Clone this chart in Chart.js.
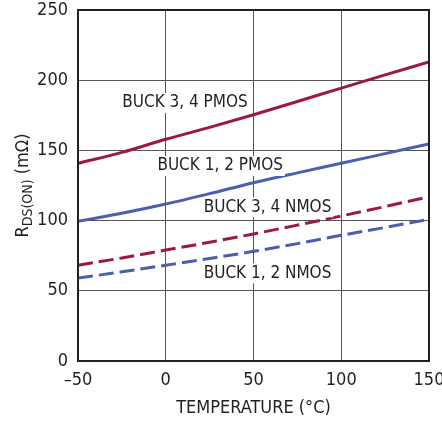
<!DOCTYPE html>
<html>
<head>
<meta charset="utf-8">
<script src="https://cdn.jsdelivr.net/npm/chart.js@4"></script>
<style>
  html, body { margin: 0; padding: 0; background: #fff; }
  #wrap { width: 442px; height: 423px; }
</style>
</head>
<body>
<div id="wrap"><canvas id="grafico" width="442" height="423"></canvas></div>
<script>
// temperaturas (°C) y resistencias (mΩ)
const temperaturas = [-50, -25, 0, 25, 50, 75, 100, 125, 150];
const buck34Pmos = [140.8, 148.6, 157.9, 166.4, 175.4, 184.8, 194.4, 203.8, 213];
const buck12Pmos = [99.5, 105.2, 111.8, 119.2, 127, 134, 140.8, 147.7, 154.6];
const buck34Nmos = [68.2, 73.4, 79, 84.6, 90.5, 96.8, 103.3, 110, 117];
const buck12Nmos = [59.1, 63.5, 68.2, 73, 78.1, 83.6, 89.5, 95.1, 100.9];

const xTicks = [-50, 0, 50, 100, 150];
const yTicks = [0, 50, 100, 150, 200, 250];

// etiquetas de las curvas: texto y posicion en unidades del grafico
const etiquetas = ['BUCK 3, 4 PMOS', 'BUCK 1, 2 PMOS', 'BUCK 3, 4 NMOS', 'BUCK 1, 2 NMOS'];
const etiquetasX = [11, 31, 58, 58];
const etiquetasY = [183.8, 138.9, 109.5, 62.5];

const ROJO = '#9d1a3d';
const AZUL = '#4a60ae';
const FUENTE = "'Liberation Sans Narrow', 'DejaVu Sans Condensed', 'Liberation Sans', sans-serif";

function serie(valores, color, discontinua) {
    return {
        data: temperaturas.map((t, i) => ({ x: t, y: valores[i] })),
        borderColor: color,
        borderWidth: 3,
        borderDash: discontinua ? [15, 6] : [],
        pointRadius: 0,
        cubicInterpolationMode: 'monotone',
        fill: false
    };
}

const etiquetasPlugin = {
    id: 'etiquetas',
    afterDatasetsDraw(chart) {
        const ctx = chart.ctx;
        const sx = chart.scales.x, sy = chart.scales.y;
        ctx.save();
        ctx.font = '17px ' + FUENTE;
        ctx.textAlign = 'center';
        ctx.textBaseline = 'middle';
        etiquetas.forEach(function(txt, i) {
            const px = sx.getPixelForValue(etiquetasX[i]);
            const py = sy.getPixelForValue(etiquetasY[i]);
            const w = ctx.measureText(txt).width;
            ctx.fillStyle = '#fff';
            ctx.fillRect(px - w / 2 - 2, py - 10, w + 4, 20);
            ctx.fillStyle = '#231f20';
            ctx.fillText(txt, px, py);
        });
        // borde del area del grafico
        const a = chart.chartArea;
        ctx.strokeStyle = '#231f20';
        ctx.lineWidth = 2;
        ctx.strokeRect(a.left, a.top, a.right - a.left, a.bottom - a.top);

        // titulo del eje y con subindice
        ctx.translate(22, (a.top + a.bottom) / 2);
        ctx.rotate(-Math.PI / 2);
        ctx.fillStyle = '#231f20';
        ctx.textBaseline = 'alphabetic';
        ctx.textAlign = 'left';
        const partes = [['R', '18px', 0], ['DS(ON)', '14px', 4], [' (mΩ)', '18px', 0]];
        let total = 0;
        partes.forEach(function(p) { ctx.font = p[1] + ' ' + FUENTE; total += ctx.measureText(p[0]).width; });
        let xx = -total / 2;
        partes.forEach(function(p) {
            ctx.font = p[1] + ' ' + FUENTE;
            ctx.fillText(p[0], xx, 6 + p[2]);
            xx += ctx.measureText(p[0]).width;
        });
        ctx.restore();
    }
};

const ctx = document.getElementById('grafico').getContext('2d');
const grafico = new Chart(ctx, {
    type: 'line',
    data: {
        datasets: [
            serie(buck34Pmos, ROJO, false),
            serie(buck12Pmos, AZUL, false),
            serie(buck34Nmos, ROJO, true),
            serie(buck12Nmos, AZUL, true)
        ]
    },
    options: {
        responsive: false,
        animation: false,
        layout: { padding: { top: 10, right: 13, left: 0, bottom: 0 } },
        plugins: { legend: { display: false }, tooltip: { enabled: false } },
        scales: {
            x: {
                type: 'linear',
                min: -50,
                max: 150,
                afterBuildTicks: function(s) { s.ticks = xTicks.map(v => ({ value: v })); },
                afterFit: function(s) { s.height = 62; s.paddingLeft = 0; s.paddingRight = 0; },
                grid: { color: '#555', lineWidth: 1, drawTicks: false },
                border: { display: false },
                ticks: {
                    color: '#231f20',
                    padding: 9,
                    font: { family: FUENTE, size: 18 },
                    callback: v => (v < 0 ? '\u2013' + Math.abs(v) : '' + v)
                },
                title: {
                    display: true,
                    text: 'TEMPERATURE (°C)',
                    color: '#231f20',
                    font: { family: FUENTE, size: 18 },
                    padding: { top: 0, bottom: 4 }
                }
            },
            y: {
                min: 0,
                max: 250,
                afterBuildTicks: function(s) { s.ticks = yTicks.map(v => ({ value: v })); },
                afterFit: function(s) { s.width = 78; s.paddingTop = 0; s.paddingBottom = 0; },
                grid: { color: '#555', lineWidth: 1, drawTicks: false },
                border: { display: false },
                ticks: {
                    color: '#231f20',
                    padding: 10,
                    font: { family: FUENTE, size: 18 }
                }
            }
        }
    },
    plugins: [etiquetasPlugin]
});
</script>
</body>
</html>
